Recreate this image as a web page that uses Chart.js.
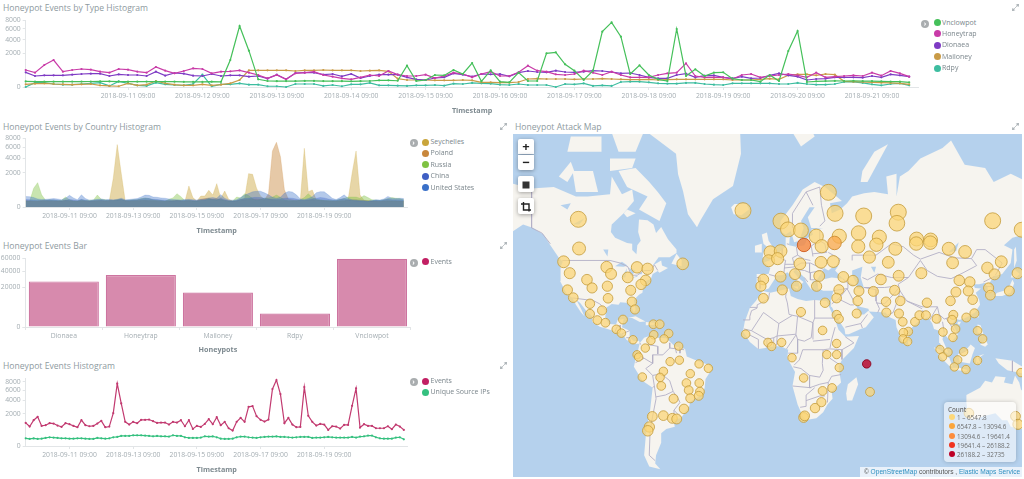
<!DOCTYPE html>
<html>
<head>
<meta charset="utf-8">
<title>Honeypot dashboard</title>
<script src="https://cdn.jsdelivr.net/npm/chart.js@4"></script>
<style>
html, body { margin: 0; padding: 0; background: #fff; width: 1024px; height: 479px; overflow: hidden; font-family: "Open Sans", sans-serif; }
canvas { position: absolute; }
.title { position: absolute; font-size: 8.6px; line-height: 14px; color: #8e9aa0; white-space: nowrap; }
.legend-item { position: absolute; font-size: 7px; line-height: 12px; color: #7b868c; white-space: nowrap; }
.legend-item i { position: absolute; left: -8.5px; top: 2.5px; width: 7px; height: 7px; border-radius: 50%; }
.toggle { position: absolute; width: 8px; height: 8px; border-radius: 50%; background: #a9adaf; color: #fff; font-size: 7px; line-height: 7px; text-align: center; font-weight: 700; }
.expand { position: absolute; width: 7px; height: 7px; }
.map-btn { position: absolute; left: 518px; width: 16px; background: #fff; box-shadow: 0 1px 4px rgba(0,0,0,.35); border-radius: 2px; color: #222; text-align: center; font-weight: 700; }
.map-legend { position: absolute; left: 944px; top: 402px; width: 72px; height: 60px; border-radius: 4px; background: rgba(255,255,255,.55); box-shadow: 0 0 4px rgba(0,0,0,.2); }
.map-legend div { position: absolute; font-size: 6.3px; line-height: 9px; color: #6d6d6d; white-space: nowrap; }
.map-legend i { position: absolute; left: -8px; top: 1px; width: 6px; height: 6px; border-radius: 50%; }
.attribution { position: absolute; left: 860px; top: 467px; width: 162px; height: 10px; background: rgba(255,255,255,.7); font: 6.6px/10px "Liberation Sans", sans-serif; color: #555; white-space: nowrap; text-align: right; }
.attribution b { font-weight: 400; color: #2f8fc0; }
</style>
</head>
<body>

<div class="title" style="left:3px;top:1px">Honeypot Events by Type Histogram</div>
<div class="title" style="left:3px;top:120px">Honeypot Events by Country Histogram</div>
<div class="title" style="left:3px;top:239px">Honeypot Events Bar</div>
<div class="title" style="left:3px;top:359px">Honeypot Events Histogram</div>
<div class="title" style="left:515px;top:120px">Honeypot Attack Map</div>

<canvas id="typeChart" style="left:0;top:0"></canvas>
<canvas id="countryChart" style="left:0;top:116px"></canvas>
<canvas id="barChart" style="left:0;top:235px"></canvas>
<canvas id="eventsChart" style="left:0;top:355px"></canvas>
<canvas id="mapChart" style="left:513px;top:134px;background:#b5d1ed"></canvas>

<div id="legends"></div>

<div class="map-btn" style="top:139px;height:15px;font-size:13px;line-height:15px;border-radius:2px 2px 0 0">+</div>
<div class="map-btn" style="top:155px;height:15px;font-size:13px;line-height:14px;border-radius:0 0 2px 2px">&minus;</div>
<div class="map-btn" style="top:176px;height:16px"><svg width="16" height="16"><rect x="4.5" y="4.5" width="7" height="7" fill="#333"/></svg></div>
<div class="map-btn" style="top:198px;height:16px"><svg width="16" height="16" fill="none" stroke="#222" stroke-width="1.4"><path d="M5.500 3v8h7.500M3 5h8v7.500"/></svg></div>

<div class="map-legend" id="mapLegend"></div>
<div class="attribution">&copy; <b>OpenStreetMap</b> contributors , <b>Elastic Maps Service</b>&nbsp;</div>

<script>
// ---------- histogram values, one every 3 hours starting 2018-09-10 00:00 ----------
const typeVnclowpot = [
  55,52,50,51,50,52,53,54,55,55, 52,50,51,52,50,52,50,48,47,46,
  50,48,1299,6631,2352,105,64,60,62,60, 66,66,62,60,60,58,60,64,80,80,
  70,811,64,87,257,240,515,301,1026,57, 495,51,39,366,64,64,2020,2142,915,475,
  87,475,5456,7452,4515,301,836,257,105,64, 5995,216,556,216,366,383,124,87,87,51,
  257,64,2310,5588,45,57,62,65,64,70, 62,60,55,52,50,39];
const typeHoneytrap = [
  515,366,862,1299,419,515,577,535,419,366, 577,535,419,366,713,475,333,456,621,577,
  333,419,437,495,366,257,134,257,105,333, 366,419,257,190,134,105,167,257,216,456,
  271,216,216,271,144,216,366,301,167,301, 419,216,216,383,811,475,419,286,257,301,
  475,366,257,419,257,167,167,167,257,333, 366,998,216,167,167,167,114,257,301,167,
  216,257,301,243,167,366,167,190,216,243, 216,366,229,456,333,190];
const typeDionaea = [
  383,216,243,243,243,271,301,317,317,216, 286,257,257,216,419,229,349,317,229,216,
  301,216,243,243,190,216,124,271,105,349, 366,366,271,301,203,301,144,216,271,271,
  271,167,105,87,144,167,333,271,190,301, 286,301,203,366,456,401,383,475,401,383,
  419,475,456,401,333,349,257,167,134,134, 257,317,167,229,243,167,134,190,134,144,
  243,333,243,190,87,114,124,167,167,167, 155,216,167,286,243,190];
const typeMailoney = [
  13,20,24,16,13,10,13,16,5,2, 1,24,5,10,64,24,10,5,5,13,
  5,10,24,87,495,495,495,495,495,456, 495,495,515,495,495,495,456,475,495,437,
  124,87,87,87,79,79,79,87,79,39, 39,33,33,45,114,124,114,114,114,105,
  114,114,124,114,105,96,96,105,87,96, 105,105,105,105,105,105,87,87,87,105,
  124,105,243,286,286,243,301,271,57,51, 45,39,33,29,24,13];
const typeRdpy = [
  0,33,33,16,10,10,16,24,33,2, 57,24,5,2,33,13,7,5,16,271,
  1,13,13,24,10,10,1,1,0,16, 16,16,2,7,1,13,13,29,5,5,
  3,2,5,5,7,3,20,16,29,24, 20,10,7,16,7,7,7,0,16,13,
  24,2,5,2,45,51,51,39,24,20, 20,29,29,16,10,7,24,24,24,24,
  24,16,16,29,16,10,10,16,45,45, 29,13,5,16,24,5];

const countrySeychelles = [
  60,55,50,50,60,60,55,50,55,60, 70,60,50,50,60,55,50,55,60,60,
  55,60,1400,6600,1923,60,55,60,60,70, 70,65,60,55,50,50,60,60,70,60,
  50,750,150,60,205,205,471,244,924,127, 434,100,60,60,100,120,1885,1810,600,200,
  100,100,90,80,70,70,60,60,60,80, 5840,400,490,90,70,65,60,55,55,60,
  60,90,1900,5320,244,80,70,60,55,50, 55,60,60,55,55,50];
const countryPoland = [
  70,65,60,60,70,70,65,65,60,60, 75,70,65,60,70,65,60,65,70,75,
  65,70,70,75,80,70,65,70,75,80, 85,80,75,70,65,60,65,70,75,70,
  60,65,60,60,100,120,130,110,120,90, 80,60,60,65,80,90,100,110,110,100,
  90,300,5320,7095,4300,500,100,90,80,70, 70,75,90,80,75,70,65,60,60,70,
  75,80,90,90,80,70,65,60,60,55, 65,70,65,65,60,55];
const countryRussia = [
  60,60,590,1005,250,80,90,80,70,75, 170,90,60,60,90,70,80,80,244,100,
  90,70,70,90,100,70,80,90,90,120, 140,120,90,80,70,60,100,140,300,180,
  70,80,60,60,70,80,120,90,90,100, 70,60,60,170,140,300,220,120,70,100,
  130,140,170,244,160,90,80,70,70,90, 150,300,150,100,90,80,80,70,80,100,
  120,170,170,170,130,220,150,90,80,70, 90,120,150,130,120,90];
const countryChina = [
  95,90,85,80,70,75,85,90,80,65, 80,95,85,70,100,80,60,70,80,85,
  70,75,70,85,100,70,75,85,90,110, 130,120,100,95,85,80,70,65,70,65,
  75,80,70,65,80,85,100,100,90,130, 90,65,60,70,100,120,130,150,160,150,
  130,110,100,95,110,130,140,130,110,85, 75,90,110,130,150,140,110,90,75,100,
  120,90,70,65,60,55,50,60,75,70, 85,110,90,90,90,85];
const countryUS = [
  190,180,150,110,95,100,110,120,110,90, 130,230,140,90,250,120,80,90,100,110,
  90,100,90,100,130,90,95,110,120,170, 240,230,170,160,140,130,110,95,90,85,
  95,100,90,85,100,110,140,150,130,260, 130,85,80,90,150,240,310,390,420,420,
  340,250,160,130,160,320,410,380,250,110, 95,120,180,340,400,390,250,130,95,150,
  250,130,90,85,80,70,60,75,90,85, 110,190,130,120,130,120];

const eventsTotal = [
  1033,730,1287,1642,781,834,1003,974,807,705, 1003,917,781,681,1287,834,755,781,974,1221,
  681,730,2084,7507,3500,1125,889,1125,1003,1320, 1320,1354,1188,1033,1063,1063,889,1125,1063,1287,
  755,1287,564,781,705,945,1389,917,1605,834, 1125,610,459,1125,1531,1125,2970,3073,1719,1320,
  1156,1354,6271,8421,5213,1003,1531,889,681,705, 6722,1758,1125,807,945,889,500,755,730,587,
  861,861,3125,6420,656,917,781,781,610,610, 610,755,543,889,730,500];
const eventsUniqueIPs = [
  115,96,115,96,105,125,147,136,125,115, 115,105,105,115,115,105,96,96,125,115,
  105,115,147,158,195,195,195,222,222,222, 209,195,182,195,182,182,170,222,195,195,
  147,125,125,125,136,182,170,182,147,105, 96,96,105,147,170,170,147,136,125,147,
  158,170,170,182,158,158,147,136,147,158, 158,158,125,136,136,147,158,147,136,136,
  136,136,158,136,170,182,209,209,147,115, 105,105,105,136,147,87];

const barCategories = ['Dionaea', 'Honeytrap', 'Mailoney', 'Rdpy', 'Vnclowpot'];
const barEvents = [26580, 34600, 15180, 2330, 59500];

const typeTickLabels = ['2018-09-11 09:00', '2018-09-12 09:00', '2018-09-13 09:00', '2018-09-14 09:00', '2018-09-15 09:00',
  '2018-09-16 09:00', '2018-09-17 09:00', '2018-09-18 09:00', '2018-09-19 09:00', '2018-09-20 09:00', '2018-09-21 09:00'];
const sideTickLabels = ['2018-09-11 09:00', '2018-09-13 09:00', '2018-09-15 09:00', '2018-09-17 09:00', '2018-09-19 09:00'];
const countTicks = [0, 2000, 4000, 6000, 8000];
const barTicks = [0, 20000, 40000, 60000];

// ---------- map layer: grid cells as [x, y] map positions, one list per count bucket ----------
const bucketRanges = ['1 \u2013 6547.8', '6547.8 \u2013 13094.6', '13094.6 \u2013 19641.4', '19641.4 \u2013 26188.2', '26188.2 \u2013 32735'];
const spotsLowest = [
  [-108.8,61.1],[-108.4,52],[-117.2,47.1],[-113.7,42.5],[-103.9,39.7],[-101,36],[-92.7,45],[-90.2,42.2],[-92.3,36.8],[-80.7,40.7],
  [-75.4,44.9],[-69.4,44.3],[-70.5,39.4],[-73.1,37.6],[-79,34.9],[-115,35.1],[-49.4,46.3],[-15.1,63.4],[6.5,60.6],[10.5,58.2],
  [17.9,57.9],[33.5,67.7],[37.3,62.7],[53.6,62],[73.3,63],[72.5,60],[127,60.7],[50.7,57.1],[62.5,55.8],[60.8,53.3],
  [50.5,52.7],[71.6,51.9],[83.7,55.2],[83.5,53.7],[91.7,54.9],[91.5,54],[102,51.9],[111.3,50.8],[104.2,46.7],[131.9,47.1],
  [124,44.7],[128.1,42],[141.2,42.5],[108,39.4],[114,38.7],[124.7,36],[136.5,34.6],[106.1,34.1],[113.1,34.6],[86.4,42.5],
  [67.6,46.9],[56.8,48.9],[36.3,47.2],[29.3,46.9],[17.3,46.3],[14.5,42.1],[28.3,41.3],[6.3,41],[-3.5,39.8],[-4.9,36.8],
  [7.3,35.1],[15.4,36.8],[26.8,36.8],[42,40.9],[47.5,39.3],[63.4,39.8],[73.5,41.4],[50.9,34.6],[59.1,34.4],[71.2,34.9],
  [39.5,35.2],[0.5,50.7],[6.3,51.1],[-0.5,47.5],[4.6,48.3],[26.6,56.1],[29.7,52.8],[39.7,56.1],[143.5,58.1],
  [-111.7,31.4],[-102.2,28.4],[-102.2,23.2],[-91.9,31.1],[-78.3,29.4],[-76.6,25.5],[-95.3,25],[-98,19.9],[-93.4,18.5],[-83.4,20.2],
  [-87.2,14.9],[-84.3,12.8],[-77.7,9.1],[-66.1,17.7],[-62.5,17.7],[-57.4,12.6],[-65.9,11.9],[-67.5,8.7],[-60,9.6],[-70.7,4.4],
  [-51.7,5.5],[-75.4,0.6],[-74.5,-0.7],[-56.6,-3.3],[-51.3,-2.5],[-40.1,-4.6],[-34.8,-7.1],[-45.1,-10.1],[-60.4,-8.8],[-62.3,-12.2],
  [-72.4,-12],[-61.6,-16.9],[-47.3,-15.3],[-40,-15.3],[-46,-19.2],[-39.6,-20],[-40.3,-22.2],[-45.1,-23.5],[-54.6,-23.7],[-48.7,-28.9],
  [-66.7,-32.6],[-60.4,-32.2],[-55.3,-33.5],[-52.8,-33.8],[-68.4,-37.5],[-69.3,-39.2],
  [-3.5,31.1],[17.9,24.2],[31.6,28.9],[38.2,31.2],[50.2,29.8],[49.6,23.4],[38.2,22.7],[39.5,20.6],[30.2,14.3],[38.2,7],
  [38.2,0.7],[32.6,0.7],[-13.6,12.2],[-0.9,7.6],[1.2,5.3],[6.9,7.6],[12.8,-1.1],[39.7,-6.7],[19.4,-12.5],[30.2,-19.6],
  [35.6,-18],[29.5,-25.5],[25.9,-28.5],[19.4,-33.1],[20,-32.3],[57.2,-20.1],
  [66.3,29.4],[66.5,23.9],[73.7,23.4],[74.4,29.8],[75.8,19],[82.8,19],[85.3,22.5],[89,22.5],[89.6,28.9],[95.1,20.6],
  [103,29.8],[115.6,30.4],[125.7,32.6],[104.6,22.7],[103.9,20.1],[116.6,23.5],[112,21.3],[105.9,15.1],[98.7,13.4],[104.4,10.4],
  [118.4,14.1],[121.3,9.6],[79,13.7],[76.2,13.1],[76,9.6],[78.6,8.1],[97,3.6],[101.6,2.1],[98.5,-0.6],[110.5,2.3],
  [107.1,-2.3],[105.2,-6.3],[111.8,-7.8],[118.4,-2.7],[143.1,-9.5],[113.5,-31],[140,-32.5],[141.4,-36.3]];
const spotsSecond = [[37,53.9]];
const spotsThird = [[19.6,53.2]];
const spotsTop = [[55.3,-4.6]];

const landShapes = [
  // North America
  [[-156,71],[-141,69.7],[-128,70],[-115,68],[-108,68],[-95,68.5],[-94,72],[-88,68.5],[-82,69.5],[-81,67],[-87,64],[-94,61],[-94.5,58.8],[-92,57],[-85,55.3],[-82,55],[-82,52.9],[-79.5,51.3],[-79,54.5],[-77,56],[-78.5,58.8],[-78,62.4],[-73,62.2],[-69.5,61],[-68,58.5],[-65,60.3],[-61,56.5],[-56,53],[-56,51.8],[-60,50.2],[-66.5,50.2],[-70,47],[-65,49],[-64.5,47],[-61,46],[-66,44],[-67,44.8],[-70,43.5],[-71,41.5],[-74,40.5],[-75.5,38],[-76,35],[-78,34],[-81,31.5],[-80,26.5],[-81,25],[-82.5,28],[-84,30],[-89,30.3],[-90,29],[-94,29.5],[-97.3,27.5],[-97.8,22.3],[-95.5,18.8],[-91.5,18.5],[-90.5,21],[-87,21.5],[-88,17],[-83.5,15],[-83.5,11],[-81,9],[-78,9.3],[-77.5,7.5],[-80,7.5],[-83,8.2],[-85.5,10],[-87.5,13],[-92,14.5],[-96,15.8],[-101,17.2],[-105.5,20],[-105.5,23],[-109,26],[-112.5,30],[-114.7,31.5],[-112,27],[-110,23],[-112,25],[-115,29],[-117,32.5],[-120.5,34.5],[-122.5,37.7],[-124.3,40.5],[-124,46.5],[-122.7,48.5],[-125,50],[-130,54.5],[-134,58],[-140,60],[-146,61],[-152,59],[-158,57],[-165,55],[-158,59],[-165,61],[-166,66]],
  // Arctic islands, Greenland, North Atlantic
  [[-80,73.5],[-72,71],[-67,69],[-62,66.5],[-66,62],[-72,63.5],[-78,65],[-73,68],[-85,70],[-90,73]],
  [[-117,73],[-105,73],[-102,69],[-115,69]],
  [[-125,72],[-118,74.5],[-116,73],[-120,71]],
  [[-90,76],[-80,76],[-72,80],[-65,83],[-90,82],[-95,79]],
  [[-95,75],[-80,75],[-82,73.5],[-95,73]],
  [[-120,76],[-100,76],[-100,78],[-118,78]],
  [[-85,65],[-80,64],[-85,63],[-87,64]],
  [[-73,78.5],[-56.3,75.7],[-55.1,72.4],[-52.2,69.2],[-49.3,63.8],[-44,60.2],[-42.2,62],[-34.6,67.4],[-22.9,70.2],[-18.2,75.7],[-19,80],[-30,84],[-60,84]],
  [[-59,47.7],[-53,46.7],[-53,49],[-56,51.5]],
  [[-84.5,22],[-80,23],[-74.2,20.2],[-77.5,19.9],[-82,22]],
  [[-74,19.8],[-69,19.5],[-68.5,18.3],[-74,18]],
  [[-24,65.5],[-22,66.3],[-15,66.3],[-13.5,65],[-18,63.5],[-22.5,63.8]],
  [[-5.5,50],[1.5,51.2],[1.5,53],[-2,56],[-3,58.6],[-6,58],[-5,55],[-3,54],[-5,52]],
  [[-10,52],[-6,52],[-6,55],[-10,54.3]],
  [[12,78.5],[20,80],[25,78],[17,76.7]],
  // Eurasia
  [[5,59],[5,62],[12,66],[18,69.5],[25,71],[31,70],[41,67],[34,66.5],[35,64],[40,65],[44,66.5],[47,68],[54,68.7],[60,69],[68,68.5],[67,72],[73,72.5],[73,68],[75,72],[80,73],[87,75],[100,76.5],[105,77.5],[113,74],[125,73.5],[130,71],[140,72.5],[150,71],[160,70],[170,60],[160,60],[155,59],[141,57],[136,54.5],[141,53],[140,48],[135,43.5],[130,42.5],[127.5,39.5],[129.4,36],[126.5,34.5],[126.5,37.5],[125,39.7],[121.5,39],[118,39],[119,37.3],[122.5,37],[119.5,35],[121.5,31.5],[122,29],[119,25],[114,22.3],[110,21],[108,21.5],[105.8,19],[109,13],[107,10.5],[105,8.7],[103,11],[100.5,13.5],[100,10],[103.5,2],[101,3],[98.5,8],[98,15],[95,16],[94,19],[91.5,22.5],[88,21.5],[85,19.5],[80,15],[80,11],[78,8.5],[76.5,8.5],[73,17],[72.5,21],[69,22.5],[66.5,25],[57,25.5],[56.5,27],[51.5,28],[48.5,30],[51,25.5],[51.5,24],[54,24],[56.5,26],[59.7,22.5],[55,17],[52,16],[45,13],[43,13],[42.5,16],[39,21],[35,28],[34.5,27.8],[34.5,31.5],[36,36],[30,36],[27,37],[26.5,40],[29,41],[35,42],[41.5,41.5],[37,45],[39,47],[35,46],[33,45],[30.5,46],[28,43],[26,40.7],[23.5,40],[24,38],[23,36.5],[20,40],[19,42],[14,45.5],[12.5,44.5],[16,41.5],[18.5,40],[16,38],[15.8,40],[12,42],[9,44.3],[6,43],[3,43],[0,39.5],[-2,37],[-5.5,36],[-9,37],[-9,43.5],[-2,43.5],[-1,46],[-4.5,48.3],[-1.5,49],[2,51],[4,52],[8,54],[8,57],[10.5,57.5],[10,54.5],[14,54],[19,54.5],[21,57],[24,58],[23,59.5],[30,60],[23,60],[21,63],[25,65.5],[22,65.5],[17,62],[18.5,60],[16,56],[13,55.5],[11,59],[8,58]],
  [[52,71],[56,71],[68,77],[60,76],[53,73]],
  [[12.5,38],[15.5,38],[15,36.8]],
  [[130,33.5],[135,33.5],[140,35],[142,39.5],[141,41],[139.5,38.5],[136,36],[132,35]],
  [[140,42],[142,45.5],[145.3,43.5],[143,42]],
  [[142,46],[143.5,49],[143,54],[142,53]],
  [[120.2,23],[121.5,25],[121,22]],
  [[80,9.7],[81.8,7.5],[80.5,6],[79.8,8]],
  [[109,20],[110.8,20],[110,18.3],[108.7,18.8]],
  [[120.5,18.5],[122.3,18],[124,13],[120.5,14]],
  [[122,7],[125.5,9.7],[126.5,7],[125,5.7]],
  [[95,5.5],[98.5,4],[104,-1],[106,-5.8],[104,-5.5],[100.5,-2],[97,2]],
  [[105.5,-6.5],[110,-6.5],[114.5,-7.8],[114,-8.7],[106,-7.5]],
  [[109,1.5],[113,3],[116.5,7],[119,5],[117.5,1],[116,-4],[110,-3]],
  [[119.5,-5.5],[120,0],[124.5,1.5],[121,-1],[122.5,-5],[120.5,-3]],
  [[131,-1],[141,-2.5],[147,-6],[150,-10.5],[143,-9],[138,-8],[133,-4]],
  // Africa, Madagascar
  [[-5.5,35.8],[-1,35],[10,37],[11,33.5],[15,32],[20,31],[25,31.5],[32,31],[32.5,30],[35,25],[37,21],[39,15.5],[43,11.5],[51,12],[48,5],[41,-2],[39,-6],[40.5,-15],[35,-20],[35.5,-24],[32.5,-27],[30,-31],[26,-34],[20,-34.8],[18,-33],[15,-27],[12,-17],[13.5,-9],[9,-1],[9.5,4],[5,6],[1,6],[-4,5],[-8,4.5],[-13,8.5],[-17,14.5],[-16,20],[-13,27.5],[-9.5,31]],
  [[49.5,-12],[50.5,-16],[47,-25],[44,-25],[43.5,-21],[44.5,-16]],
  // South America
  [[-77.5,8],[-75,11],[-72,12],[-68,11],[-62,10.7],[-57,6],[-51,4.5],[-50,0],[-44,-2.5],[-37,-5],[-35,-7],[-39,-13],[-39.5,-18],[-41,-22],[-48,-25.5],[-48.5,-28],[-53.5,-34],[-58,-34.5],[-57,-38],[-62,-39],[-65,-41],[-65,-45],[-68,-50],[-68.5,-53],[-65.5,-55],[-72,-54],[-75,-50],[-74,-42],[-73,-37],[-71.5,-30],[-70,-18],[-76,-14],[-81,-6],[-80,-1.5],[-79,2]],
  // Australia
  [[114,-22],[114,-26],[115,-34],[118,-35],[124,-33],[131,-31.5],[135,-35],[138,-35],[140,-38],[146,-39],[150,-37],[153,-30],[153,-25],[146,-19],[145,-15],[142.5,-11],[141,-16],[136,-15],[137,-12],[131,-11.5],[129,-15],[125,-14],[122,-18]]
];

const waterShapes = [
  [[47,45],[53,46.5],[52,42],[54,37],[50,37],[49,40],[47,43]],
  [[-92,46.7],[-88,48.5],[-84.8,47],[-87,46.5]],
  [[-87.8,42],[-85,46],[-86,42]],
  [[-84,46],[-80,45],[-82,43]],
  [[-83,41.7],[-79,42.8],[-79,42.3]],
  [[-79.5,43.5],[-76.3,44],[-76.3,43.4]],
  [[-99,53],[-96,53],[-96.5,50.5]],
  [[-117,61],[-110,62.7],[-113,61]],
  [[-124,66],[-118,66.5],[-120,65]],
  [[58,46.5],[61,46.5],[60,44]],
  [[103.5,52],[109.5,55.5],[108,52.5]]
];

const borderLines = [
  // North America
  [[-123,49],[-95,49],[-89,48],[-84.5,46.5],[-82.5,43],[-79,43],[-75,45],[-71,45],[-69,47.3],[-67,45]],
  [[-141,70],[-141,60],[-135,58.5],[-130,55]],
  [[-117,32.5],[-108,31.5],[-106,31.7],[-101,29.5],[-97.3,26]],
  [[-92,14.6],[-91,17],[-89,18]],[[-89,18],[-89,15.8]],[[-88,13.2],[-83.5,15]],[[-85.5,11],[-83.5,11]],[[-83,8.5],[-83,10]],
  // South America
  [[-51.5,4],[-60,5],[-64,1],[-70,1],[-70,-4],[-74,-7],[-70,-11],[-65,-10],[-60,-14],[-58,-20],[-55,-24],[-54,-26],[-57.5,-30],[-53.5,-33.5]],
  [[-80,-3.5],[-75,-1],[-70,-4]],[[-79,1.5],[-75,-1]],[[-72,12],[-72.5,7],[-67,6],[-67,1.5]],[[-77.5,8],[-77,7]],
  [[-70,-11],[-69,-17],[-70,-18]],[[-69,-17],[-68,-24],[-70,-33],[-71.5,-40],[-72,-50],[-68.5,-52]],
  [[-68,-23],[-62.5,-22],[-58,-20]],[[-58,-34],[-57.5,-30]],[[-60,8],[-60,5]],[[-57,6],[-56,2]],[[-54,5.5],[-54,2]],
  // Africa
  [[-8.7,27.5],[-8.7,29],[-2,32],[-1.5,35]],[[-13,27.7],[-8.7,27.7]],[[-17,21],[-13,21],[-13,23],[-12,26],[-8.7,27.3]],
  [[-5,25],[-12,15],[-16.5,16]],[[-5,25],[1,21],[4,19],[12,23.5]],[[9,30],[10,24],[12,23.5],[15,23],[24,19.5],[25,22],[25,31.5]],
  [[25,22],[37,22]],[[8.5,37],[8,33],[9,30]],[[3,12],[14,13]],[[4,19],[3,12]],[[15,23],[14,13],[15,10],[19,9],[23,11],[24,19.5]],
  [[24,10],[24,19.5]],[[37,17],[35,10],[34,5]],[[24,9],[34,10]],[[34,4.5],[41,4],[48,8],[43,11.5]],[[41,4],[41,-1.7]],
  [[34,4.5],[30,4],[29.5,-4],[30,-8]],[[34,-1],[39.5,-4.7]],[[40.5,-10.5],[35,-11.5]],[[12.5,-6],[17,-7],[22,-11],[28,-12],[30,-8]],
  [[15,10],[15,2],[9.5,2]],[[18,4],[30,4]],[[18,4],[16,-2],[13,-5]],[[-8,4.5],[-8,10]],[[-3,5],[-3,10]],[[1,6],[1,11]],[[2.7,6.5],[3,12]],
  [[8.5,4.5],[14,12.5]],[[-12,15],[-3,10],[1,11],[3,12]],[[-13,12.5],[-8,10]],[[12,-17],[23,-18]],[[20,-28],[20,-22],[25,-18]],[[16.5,-28.5],[20,-28]],
  [[22,-18],[28,-16],[33,-15],[35,-11.5]],[[33,-15],[32.5,-26]],[[20,-25],[28,-22.5],[31,-22.5]],[[22,-11],[22,-18]],
  // Europe
  [[-1.7,43.3],[3,42.4]],[[-9,42],[-7,42],[-7,37]],[[2.5,51],[6,49.5],[8,49],[7.5,47.5],[7,44]],[[14.3,54],[15,51]],[[15,51],[12,50],[13,47.5],[7.5,47.5]],
  [[6,53.3],[6,51],[3.5,51.3]],[[8.7,55],[10,54.8]],[[7,46],[13.5,46.5]],[[23,54.3],[24,50.5]],[[15,51],[19,49.5],[22.5,49]],[[23,54.3],[28,56],[28,59.5]],
  [[24,51.5],[32,52],[31,55],[28,56]],[[22.5,48],[30,45.5]],[[40,49.5],[33,52]],[[40,49.5],[38,47]],[[22,44],[29,45]],[[22,48],[22,44]],
  [[14,45.5],[19,45],[22.5,44],[22.5,41],[26,41]],[[19,42],[21,40]],[[26,41],[26.5,38]],[[13.5,46.5],[17,48],[22.5,48]],
  [[36,36],[44,37],[44.5,39.5],[41.5,41.5]],[[12,60],[12,64],[20,69]],[[20,69],[28,70],[29,66],[31,62],[28,60.5]],[[24,66],[20,69]],
  // Asia
  [[47,49],[47,51],[61,51],[70,55],[77,54],[83,51],[87,49.5]],[[87,49.5],[98,52],[107,50],[117,49.7],[120,53],[125,53],[135,48],[131,43]],
  [[87,49],[91,45],[97,42.5],[105,41.5],[112,44],[120,47],[117,49.7]],[[87,49],[80,42],[74,39],[75,36],[79,31],[88,28],[97,28],[98,24],[101,21.5],[106,23],[108,21.5]],
  [[53,42],[56,41],[62,43.5],[70,42],[80,42]],[[44.5,39.5],[48,38.5]],[[54,37.5],[61,36.5],[61,31],[63,27],[62,25]],[[44,37],[46,34],[48.5,30]],
  [[61,30],[66,29.5],[71,34],[74,37]],[[54,37.5],[66,37.5],[71,38]],[[68,23.7],[71,25],[74,32],[75,36]],[[79,31],[88,27]],[[88,26],[88.5,22]],
  [[92.5,21],[97,28]],[[98,19],[98,24]],[[100,20],[101,14]],[[102,22],[107,15]],[[35,29.5],[39,32],[46,29],[48,29]],[[44,37],[39,32]],
  [[43,17],[52,19],[56,24]],[[52,19],[53,16.5]],[[125,38],[129,38]],[[124,40],[130.5,42.5]],[[141,-2.5],[141,-9]],[[110,1.5],[115,4]]
];

// ---------- scales ----------
class SqrtScale extends Chart.LinearScale {
  static id = 'sqrt';
  static defaults = Chart.LinearScale.defaults;
  getPixelForValue(v) {
    return this.getPixelForDecimal(Math.sqrt(Math.max(v, 0)) / Math.sqrt(this.max));
  }
  getValueForPixel(p) {
    const d = this.getDecimalForPixel(p);
    return d * d * this.max;
  }
}

function mercY(lat) {
  return Math.log(Math.tan(Math.PI / 4 + lat * Math.PI / 360));
}

class MercatorScale extends Chart.LinearScale {
  static id = 'mercator';
  static defaults = Chart.LinearScale.defaults;
  getPixelForValue(lat) {
    const lo = mercY(this.min), hi = mercY(this.max);
    return this.getPixelForDecimal((mercY(lat) - lo) / (hi - lo));
  }
}
Chart.register(SqrtScale, MercatorScale);

// ---------- shared helpers ----------
const tickColor = '#a4adb2';
const lineColor = '#e2e5e7';
const tickFont = { family: 'Open Sans', size: 6.8 };
const axisTitleFont = { family: 'Open Sans', size: 7.2, weight: 'bold' };
const BIN_HOURS = 3;
const startTime = new Date('2018-09-10T00:00').getTime();

function hoursFromStart(label) {
  return (new Date(label.replace(' ', 'T')).getTime() - startTime) / 36e5;
}
function toPoints(values) {
  return values.map((v, i) => ({ x: i * BIN_HOURS, y: v }));
}
function sizeCanvas(id, w, h) {
  const c = document.getElementById(id);
  c.width = w; c.height = h;
  c.style.width = w + 'px'; c.style.height = h + 'px';
  return c;
}
function yAxis(ticks, max, width) {
  return {
    type: 'sqrt', min: 0, max: max,
    afterBuildTicks: s => { s.ticks = ticks.map(v => ({ value: v })); },
    afterFit: s => { s.width = width; },
    grid: { drawOnChartArea: false, color: lineColor, tickLength: 3 },
    border: { color: lineColor },
    ticks: { color: tickColor, font: tickFont, padding: 2, callback: v => String(v) }
  };
}
function timeAxis(labels, height) {
  return {
    type: 'linear', min: 0, max: 96 * BIN_HOURS, bounds: 'data',
    afterBuildTicks: s => { s.ticks = labels.map(l => ({ value: hoursFromStart(l) })); },
    afterFit: s => { s.height = height; },
    grid: { drawOnChartArea: false, color: lineColor, tickLength: 3 },
    border: { color: lineColor },
    ticks: { color: tickColor, font: tickFont, padding: 2, maxRotation: 0, autoSkip: false, callback: (v, i) => labels[i] },
    title: { display: true, text: 'Timestamp', color: '#7e8a90', font: axisTitleFont, padding: { top: 3, bottom: 0 } }
  };
}
const baseOptions = {
  responsive: false, animation: false, events: [],
  plugins: { legend: { display: false }, tooltip: { enabled: false } }
};
function plotLayout(top, right) {
  return { autoPadding: false, padding: { left: 0, top: top, right: right, bottom: 0 } };
}
function lineSeries(label, values, color) {
  return {
    label: label, data: toPoints(values), borderColor: color, backgroundColor: color,
    borderWidth: 1.2, pointRadius: 1.1, pointBorderWidth: 0, tension: 0, clip: false
  };
}

// ---------- Honeypot Events by Type Histogram ----------
const typeColors = ['#45c05a', '#c93ba8', '#7e3bc4', '#c99b47', '#3dbda0'];
const typeNames = ['Vnclowpot', 'Honeytrap', 'Dionaea', 'Mailoney', 'Rdpy'];
const typeValues = [typeVnclowpot, typeHoneytrap, typeDionaea, typeMailoney, typeRdpy];
new Chart(sizeCanvas('typeChart', 925, 115), {
  type: 'line',
  data: { datasets: typeNames.map((n, i) => lineSeries(n, typeValues[i], typeColors[i])) },
  options: Object.assign({}, baseOptions, {
    layout: plotLayout(20, 6.5),
    scales: { x: timeAxis(typeTickLabels, 28), y: yAxis(countTicks, 8000, 25.7) }
  })
});

// ---------- Honeypot Events by Country Histogram ----------
const countryLegend = ['#c9a53c', '#c8873c', '#7fc242', '#3f5fc4', '#3a70c8'];
const countryNames = ['Seychelles', 'Poland', 'Russia', 'China', 'United States'];
const countryFills = ['rgba(201,165,60,.45)', 'rgba(200,135,60,.45)', 'rgba(127,194,66,.42)', 'rgba(63,95,196,.38)', 'rgba(58,112,200,.38)'];
const countryValues = [countrySeychelles, countryPoland, countryRussia, countryChina, countryUS];
new Chart(sizeCanvas('countryChart', 412, 119), {
  type: 'line',
  data: {
    datasets: countryNames.map((n, i) => ({
      label: n, data: toPoints(countryValues[i]), fill: 'origin', backgroundColor: countryFills[i],
      borderColor: countryFills[i], borderWidth: 0.5, pointRadius: 0, tension: 0, order: countryNames.length - i
    }))
  },
  options: Object.assign({}, baseOptions, {
    layout: plotLayout(22.3, 4.2),
    scales: { x: timeAxis(sideTickLabels, 28), y: yAxis(countTicks, 8000, 25.7) }
  })
});

// ---------- Honeypot Events Bar ----------
new Chart(sizeCanvas('barChart', 412, 119), {
  type: 'bar',
  data: {
    labels: barCategories,
    datasets: [{
      label: 'Events', data: barEvents, backgroundColor: '#d78aad', borderColor: '#cd74a0', borderWidth: 1.2,
      barPercentage: 0.91, categoryPercentage: 1
    }]
  },
  options: Object.assign({}, baseOptions, {
    layout: plotLayout(23.5, 1.5),
    scales: {
      x: {
        afterFit: s => { s.height = 27; },
        grid: { drawOnChartArea: false, color: lineColor, tickLength: 3 },
        border: { color: lineColor },
        ticks: { color: tickColor, font: tickFont, padding: 2, maxRotation: 0 },
        title: { display: true, text: 'Honeypots', color: '#7e8a90', font: axisTitleFont, padding: { top: 3, bottom: 0 } }
      },
      y: yAxis(barTicks, 60000, 25.3)
    }
  })
});

// ---------- Honeypot Events Histogram ----------
const eventsColors = ['#c23a70', '#35c07f'];
const eventsNames = ['Events', 'Unique Source IPs'];
new Chart(sizeCanvas('eventsChart', 412, 119), {
  type: 'line',
  data: {
    datasets: [lineSeries(eventsNames[0], eventsTotal, eventsColors[0]), lineSeries(eventsNames[1], eventsUniqueIPs, eventsColors[1])]
  },
  options: Object.assign({}, baseOptions, {
    layout: plotLayout(23.3, 4.2),
    scales: { x: timeAxis(sideTickLabels, 28), y: yAxis(countTicks, 8854, 25.7) }
  })
});

// ---------- Honeypot Attack Map ----------
const bucketColors = ['#fdd87a', '#fba63d', '#fd8d3c', '#f0321e', '#bd0026'];
const spotStyles = [
  { spots: spotsLowest, fill: 'rgba(251,214,120,.75)', edge: 'rgba(196,156,60,.8)' },
  { spots: spotsSecond, fill: 'rgba(250,170,80,.78)', edge: 'rgba(205,140,50,.9)' },
  { spots: spotsThird, fill: 'rgba(245,140,70,.85)', edge: 'rgba(205,90,30,.9)' },
  { spots: spotsTop, fill: 'rgba(189,0,38,.8)', edge: 'rgba(140,0,30,.9)' }
];
// grid cells have a fixed ground size, so they grow with latitude on this projection
function spotRadius(lat) {
  return Math.min(8, 4.2 / Math.pow(Math.cos(lat * Math.PI / 180), 0.9));
}
function shapePoints(shape) {
  return shape.map(p => ({ x: p[0], y: p[1] }));
}
const outlineAxes = { xAxisID: 'outlineX', yAxisID: 'outlineY' };
new Chart(sizeCanvas('mapChart', 509, 343), {
  type: 'bubble',
  data: {
    datasets: [].concat(
      landShapes.map(s => Object.assign({
        type: 'line', data: shapePoints(s), fill: 'shape', backgroundColor: '#f6f4ef',
        borderWidth: 0, pointRadius: 0, tension: 0, order: 40
      }, outlineAxes)),
      waterShapes.map(s => Object.assign({
        type: 'line', data: shapePoints(s), fill: 'shape', backgroundColor: '#b5d1ed',
        borderWidth: 0, pointRadius: 0, tension: 0, order: 30
      }, outlineAxes)),
      borderLines.map(s => Object.assign({
        type: 'line', data: shapePoints(s), fill: false, borderColor: '#b3b0c6',
        borderWidth: 0.9, pointRadius: 0, tension: 0, order: 20
      }, outlineAxes)),
      spotStyles.map((st, i) => ({
        data: st.spots.map(p => ({ x: p[0], y: p[1], r: spotRadius(p[1]) })),
        backgroundColor: st.fill, borderColor: st.edge, borderWidth: 1, clip: 0, order: 10 - i
      }))
    )
  },
  options: Object.assign({}, baseOptions, {
    layout: { autoPadding: false, padding: 0 },
    scales: {
      x: { type: 'linear', min: -146, max: 143.7, display: false, bounds: 'data' },
      y: { type: 'mercator', min: -56.6, max: 77.4, display: false, bounds: 'data' },
      outlineX: { type: 'linear', axis: 'x', min: -151.9, max: 146.6, display: false, bounds: 'data' },
      outlineY: { type: 'mercator', axis: 'y', min: -57.5, max: 78.3, display: false, bounds: 'data' }
    }
  })
});

// ---------- legends and small panel furniture ----------
const legendHost = document.getElementById('legends');
function addLegend(names, colors, textLeft, firstY, toggleX) {
  names.forEach((n, i) => {
    const d = document.createElement('div');
    d.className = 'legend-item';
    d.style.left = textLeft + 'px';
    d.style.top = (firstY + i * 11.4 - 6) + 'px';
    d.textContent = n;
    const dot = document.createElement('i');
    dot.style.background = colors[i];
    d.appendChild(dot);
    legendHost.appendChild(d);
  });
  const t = document.createElement('div');
  t.className = 'toggle';
  t.style.left = (toggleX - 4) + 'px';
  t.style.top = (firstY - 3) + 'px';
  t.textContent = '\u203a';
  legendHost.appendChild(t);
}
addLegend(typeNames, typeColors, 942, 22.5, 925);
addLegend(countryNames, countryLegend, 430.5, 142, 413.5);
addLegend(['Events'], ['#c21f63'], 430.5, 261.5, 413.5);
addLegend(eventsNames, ['#c21f63', '#35c07f'], 430.5, 381, 413.5);

function addExpand(x, y) {
  legendHost.insertAdjacentHTML('beforeend',
    '<svg class="expand" style="left:' + x + 'px;top:' + y + 'px" viewBox="0 0 7 7"><path d="M0 7L2.600 6.200 0.800 4.400zM7 0L4.400 0.800 6.200 2.600zM1.500 5.500L5.500 1.500" fill="#a8afb3" stroke="#a8afb3" stroke-width="0.700"/></svg>');
}
addExpand(1011.5, 4); addExpand(500, 123); addExpand(500, 242); addExpand(500, 362); addExpand(1011.5, 123);

const mapLegend = document.getElementById('mapLegend');
mapLegend.insertAdjacentHTML('beforeend', '<div style="left:4px;top:3px;font-weight:600">Count</div>');
bucketRanges.forEach((r, i) => {
  mapLegend.insertAdjacentHTML('beforeend',
    '<div style="left:13px;top:' + (11.2 + i * 9.15) + 'px">' + r + '<i style="background:' + bucketColors[i] + '"></i></div>');
});
</script>
</body>
</html>
